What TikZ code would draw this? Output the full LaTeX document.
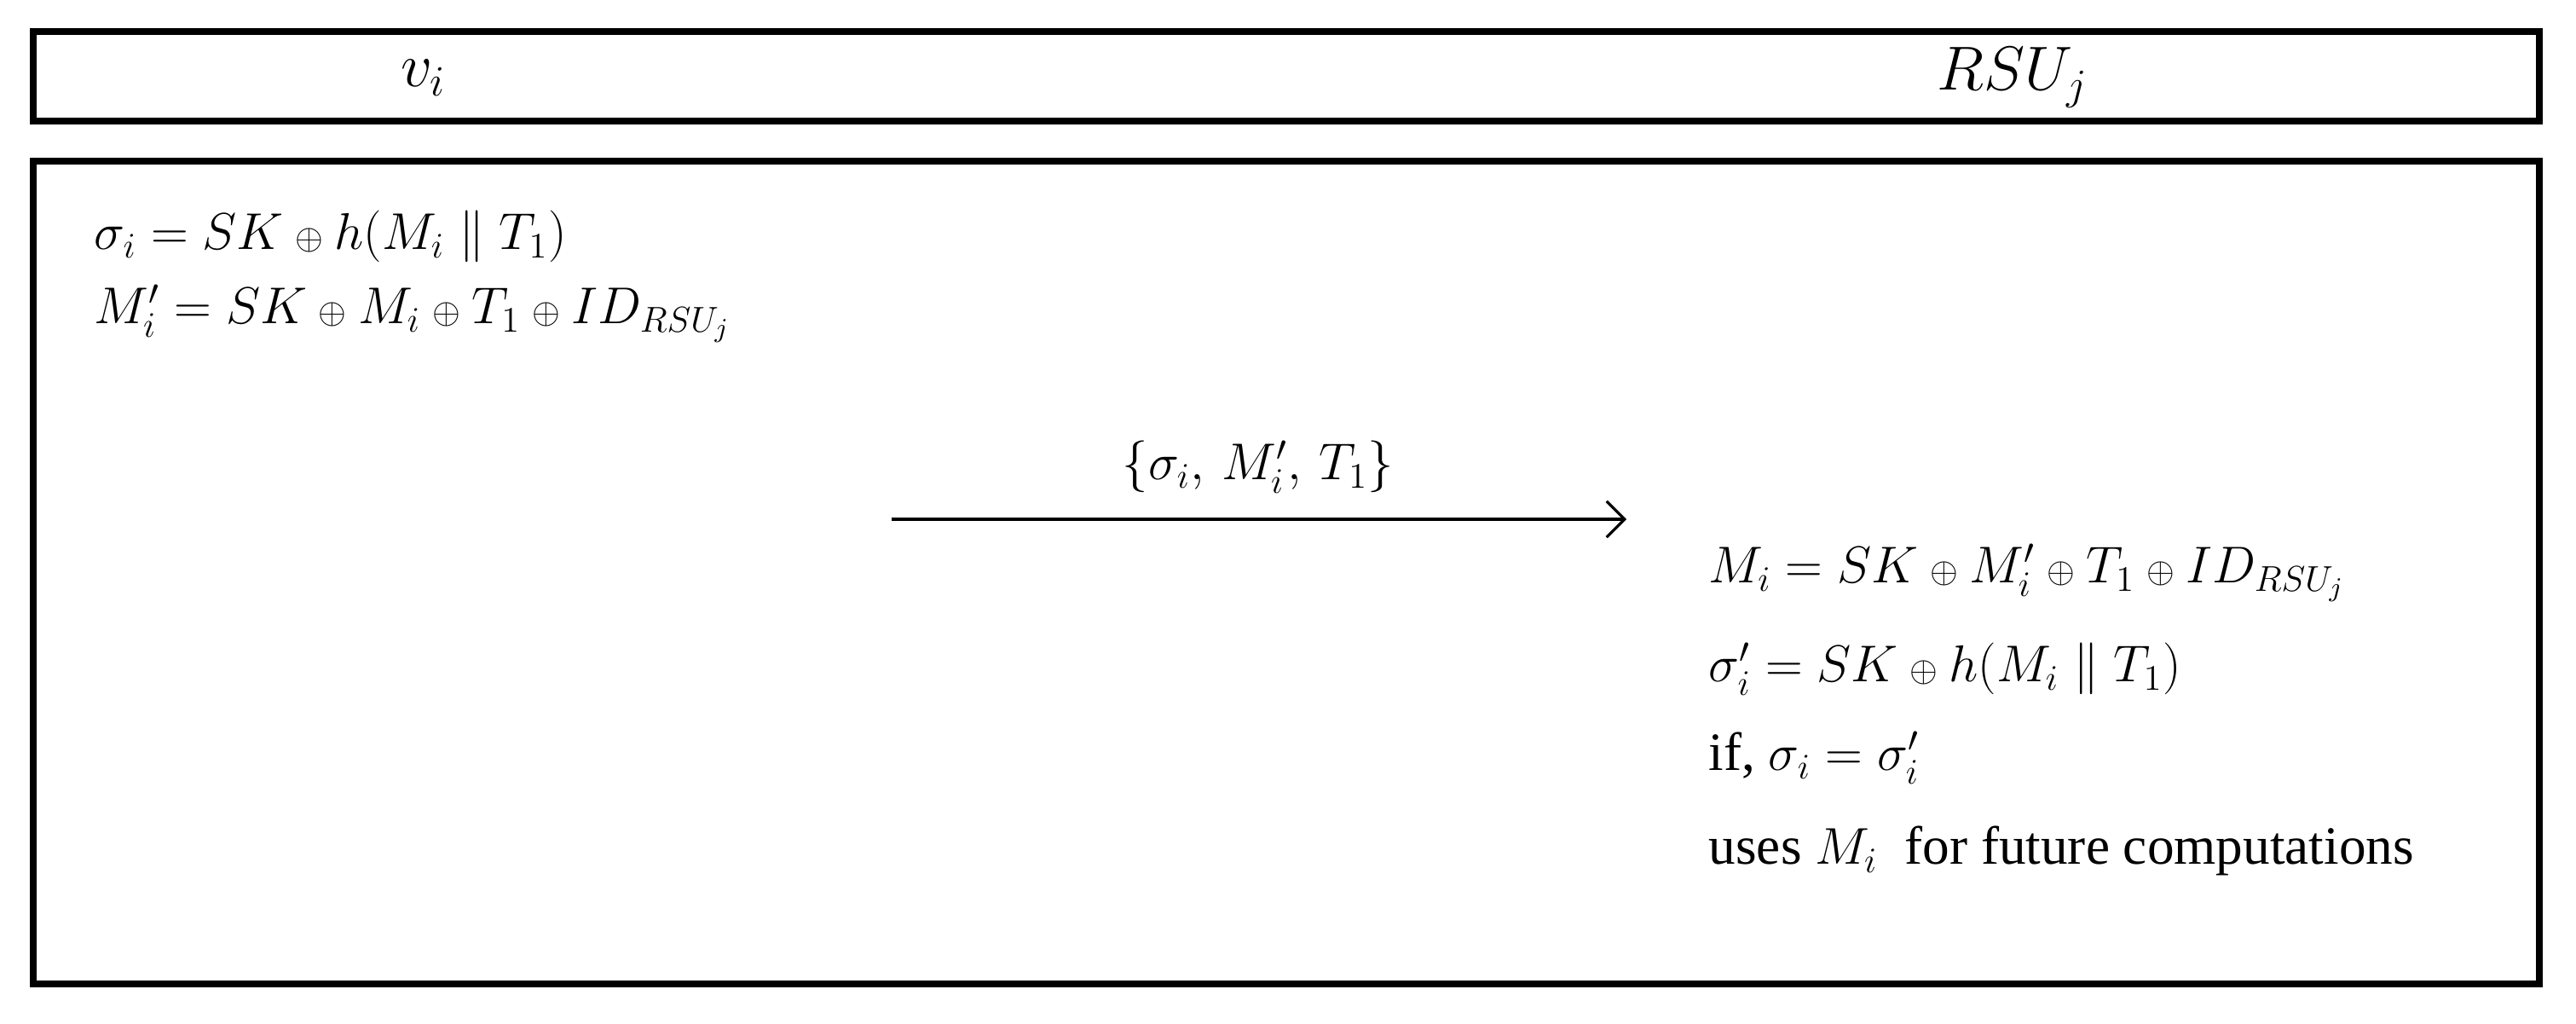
\documentclass[tikz,border=0pt]{standalone}
\usepackage{amsmath}
\usepackage{fontspec}
\setmainfont{Liberation Serif}
\usetikzlibrary{arrows.meta}
\newcommand{\sxor}{\mathbin{\scriptstyle\oplus}}

\begin{document}
\begin{tikzpicture}[eq/.style={anchor=base west, inner sep=0pt, font=\fontsize{18}{22}\selectfont},
  head/.style={inner sep=0pt, font=\fontsize{21}{25}\selectfont},
  frame/.style={line width=2.3pt}]
\useasboundingbox (0,0) rectangle (30.22,12.01);

\draw [frame] (0.39,10.59) rectangle (29.79,11.64);
\draw [frame] (0.39,0.47) rectangle (29.79,10.12);

\node [head] (vi) at (4.97,11.1) {$v_i$};
\node [head] (rsu) at (23.61,11.1) {$RSU_j$};

\node [eq] (sig) at (1.10,9.08) {$\sigma_i = SK \sxor h(M_i \parallel T_1)$};
\node [eq] (mp) at (1.10,8.21) {$M_i^{\prime} = SK \sxor M_i \sxor T_1 \sxor ID_{RSU_j}$};

\node [eq, anchor=base] (msg) at (14.76,6.38) {$\{\sigma_i,\, M_i^{\prime},\, T_1\}$};
\coordinate (a1) at (10.46,5.92);
\coordinate (a2) at (19.08,5.92);
\draw [-{Straight Barb[length=6pt,width=12pt]}, line width=0.9pt] (a1) -- (a2);

\node [eq] (mi) at (20.04,5.17) {$M_i = SK \sxor M_i^{\prime} \sxor T_1 \sxor ID_{RSU_j}$};
\node [eq] (sp) at (20.04,4.01) {$\sigma_i^{\prime} = SK \sxor h(M_i \parallel T_1)$};
\node [eq] (chk) at (20.04,2.97) {if, $\sigma_i = \sigma_i^{\prime}$};
\node [eq] (use) at (20.04,1.87) {uses $M_i$\ \ for future computations};
\end{tikzpicture}
\end{document}
